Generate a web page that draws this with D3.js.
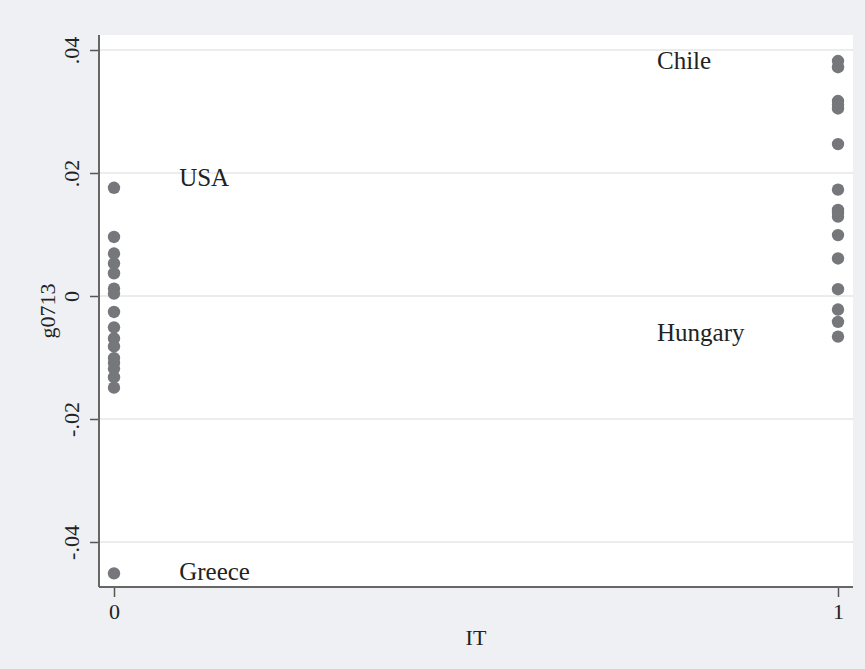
<!DOCTYPE html>
<html>
<head>
<meta charset="utf-8">
<script src="https://cdn.jsdelivr.net/npm/d3@7"></script>
<style>
  body { margin: 0; background: #eef0f3; }
  svg { display: block; }
  .tick text { font-family: "Liberation Serif", "DejaVu Serif", serif; fill: #222; }
</style>
</head>
<body>
<div id="wrapper"></div>
<script>
// data: g0713 by IT group
const itNo = [0.0176, 0.0096, 0.0069, 0.0053, 0.0037, 0.0012, 0.0004, -0.0026, -0.0051,
  -0.0069, -0.0082, -0.0101, -0.0109, -0.0118, -0.0132, -0.0149, -0.0451];
const itYes = [0.0382, 0.0372, 0.0317, 0.0311, 0.0305, 0.0247, 0.0173, 0.0140, 0.0135,
  0.0129, 0.0099, 0.0061, 0.0011, -0.0022, -0.0042, -0.0066];
const xTicks = [0, 1];
const yTicks = [-0.04, -0.02, 0, 0.02, 0.04];
const yTickLabels = ['-.04', '-.02', '0', '.02', '.04'];
const noteText = ['Chile', 'USA', 'Hungary', 'Greece'];
const noteX = [0.75, 0.09, 0.75, 0.09];
const noteY = [0.0383, 0.0193, -0.006, -0.0449];

const dataset = [
  ...itNo.map(v => ({ it: 0, g: v })),
  ...itYes.map(v => ({ it: 1, g: v }))
];

let dimensions = {
  width: 865,
  height: 669,
  margin: { top: 35, right: 12, bottom: 82, left: 99 }
};
dimensions.boundW = dimensions.width - dimensions.margin.left - dimensions.margin.right;
dimensions.boundH = dimensions.height - dimensions.margin.top - dimensions.margin.bottom;

const svg = d3.select('#wrapper').append('svg')
  .attr('width', dimensions.width)
  .attr('height', dimensions.height);

svg.append('rect')
  .attr('width', dimensions.width)
  .attr('height', dimensions.height)
  .attr('fill', '#eef0f3');

const bounds = svg.append('g')
  .attr('transform', `translate(${dimensions.margin.left},${dimensions.margin.top})`);

bounds.append('rect')
  .attr('width', dimensions.boundW)
  .attr('height', dimensions.boundH)
  .attr('fill', '#fff');

// scales
const xScale = d3.scaleLinear()
  .domain([0, 1])
  .range([15, dimensions.boundW - 15]);

const yScale = d3.scaleLinear()
  .domain([0.04, -0.04])
  .range([15, 507]);

// grid
bounds.append('g')
  .selectAll('line')
  .data(yTicks)
  .join('line')
  .attr('x1', 0)
  .attr('x2', dimensions.boundW)
  .attr('y1', d => yScale(d))
  .attr('y2', d => yScale(d))
  .attr('stroke', '#e6e6e6')
  .attr('stroke-width', 1.5);

// points
bounds.append('g')
  .selectAll('circle')
  .data(dataset)
  .join('circle')
  .attr('cx', d => xScale(d.it))
  .attr('cy', d => yScale(d.g))
  .attr('r', 6.2)
  .attr('fill', '#76777b');

// text notes
bounds.append('g')
  .selectAll('text')
  .data(noteText)
  .join('text')
  .attr('x', (d, i) => xScale(noteX[i]))
  .attr('y', (d, i) => yScale(noteY[i]))
  .attr('dy', '0.33em')
  .attr('font-family', '"Liberation Serif", serif')
  .attr('font-size', 25)
  .attr('fill', '#222')
  .text(d => d);

// axes
const yAxisGenerator = d3.axisLeft(yScale)
  .tickValues(yTicks)
  .tickSize(9)
  .tickPadding(10)
  .tickFormat((d, i) => yTickLabels[i]);

const yAxis = bounds.append('g').call(yAxisGenerator);
yAxis.select('.domain').remove();
yAxis.selectAll('.tick line').attr('stroke', '#555').attr('stroke-width', 1.5);
yAxis.selectAll('.tick text')
  .attr('font-size', 22)
  .attr('text-anchor', 'middle')
  .attr('x', 0).attr('dy', 0)
  .attr('transform', 'translate(-20,0) rotate(-90)');

yAxis.append('line')
  .attr('y1', 0).attr('y2', dimensions.boundH)
  .attr('stroke', '#666').attr('stroke-width', 2);

const xAxisGenerator = d3.axisBottom(xScale)
  .tickValues(xTicks)
  .tickSize(10)
  .tickPadding(6)
  .tickFormat(d3.format('d'));

const xAxis = bounds.append('g')
  .attr('transform', `translate(0,${dimensions.boundH})`)
  .call(xAxisGenerator);
xAxis.select('.domain').remove();
xAxis.selectAll('.tick line').attr('stroke', '#555').attr('stroke-width', 1.5);
xAxis.selectAll('.tick text').attr('font-size', 22);

xAxis.append('line')
  .attr('x1', 0).attr('x2', dimensions.boundW)
  .attr('stroke', '#666').attr('stroke-width', 2);

// axis titles
svg.append('text')
  .attr('x', dimensions.margin.left + dimensions.boundW / 2)
  .attr('y', 645)
  .attr('text-anchor', 'middle')
  .attr('font-family', '"Liberation Serif", serif')
  .attr('font-size', 22)
  .attr('fill', '#222')
  .text('IT');

svg.append('text')
  .attr('transform', `translate(55,${dimensions.margin.top + dimensions.boundH / 2}) rotate(-90)`)
  .attr('text-anchor', 'middle')
  .attr('font-family', '"Liberation Serif", serif')
  .attr('font-size', 22)
  .attr('fill', '#222')
  .text('g0713');
</script>
</body>
</html>
